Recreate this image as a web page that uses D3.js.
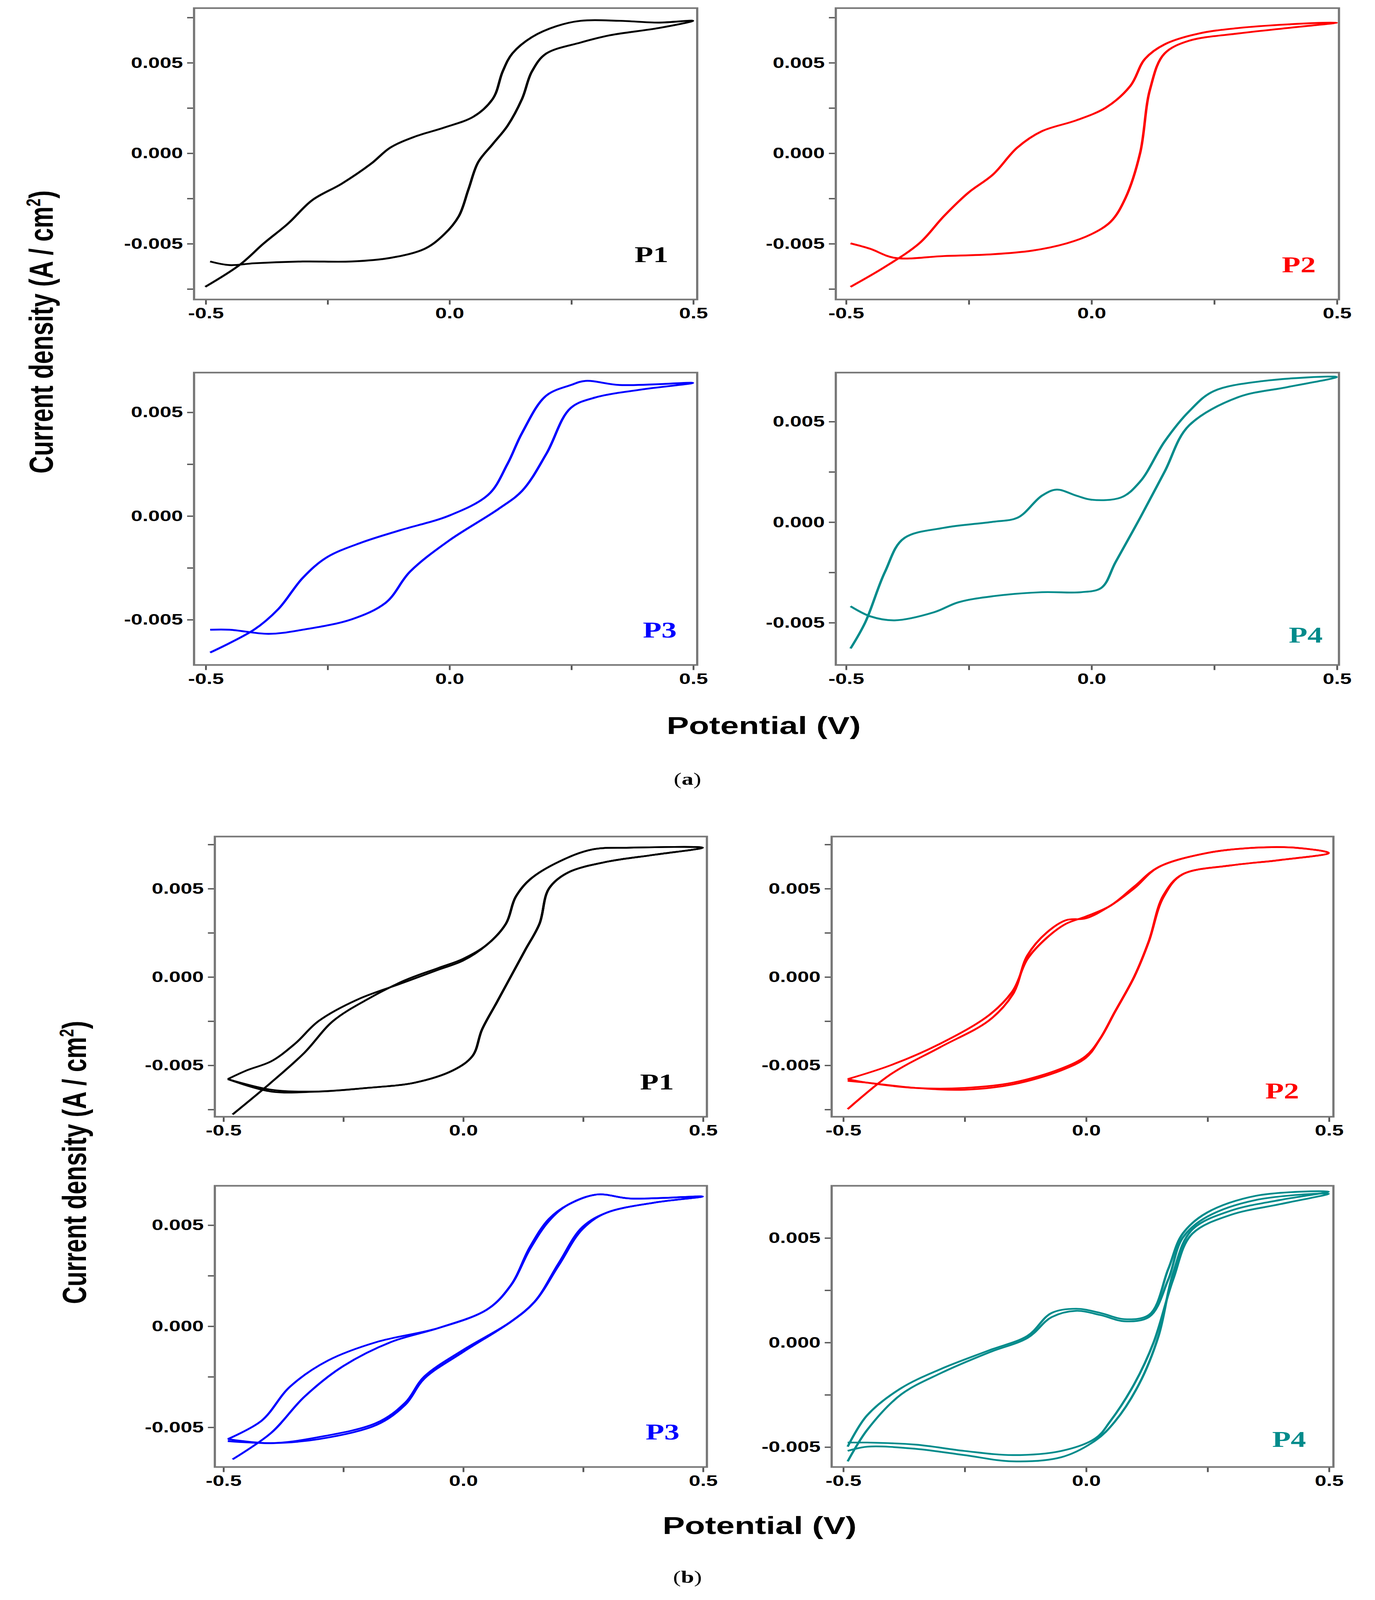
<!DOCTYPE html>
<html><head><meta charset="utf-8">
<script src="https://cdn.jsdelivr.net/npm/d3@7"></script>
<style>html,body{margin:0;padding:0;background:#fff;overflow:hidden}svg{display:block}</style></head>
<body><svg id="c" viewBox="0 0 992 1576" preserveAspectRatio="none"></svg>
<script>
// ---- data: [potential V, current density A/cm2]
const aP1 = [[-0.5,-0.0074],[-0.43,-0.0062],[-0.38,-0.005],[-0.33,-0.0039],[-0.28,-0.0026],[-0.22,-0.0017],[-0.16,-0.0006],[-0.12,0.0003],[-0.07,0.0009],[-0.01,0.0014],[0.05,0.002],[0.09,0.003],[0.11,0.0045],[0.13,0.0055],[0.17,0.0064],[0.22,0.0070],[0.27,0.0073],[0.35,0.0073],[0.43,0.0072],[0.5,0.0073],
 [0.43,0.0069],[0.33,0.0065],[0.27,0.0061],[0.2,0.0055],[0.17,0.0045],[0.15,0.003],[0.12,0.0015],[0.09,0.0005],[0.06,-0.0005],[0.04,-0.002],[0.02,-0.0035],[-0.01,-0.0045],[-0.05,-0.0053],[-0.12,-0.0058],[-0.2,-0.0060],[-0.3,-0.0060],[-0.4,-0.0061],[-0.45,-0.0062],[-0.49,-0.006]];
const aP2 = [[-0.49,-0.0074],[-0.42,-0.0063],[-0.35,-0.005],[-0.3,-0.0035],[-0.25,-0.0022],[-0.2,-0.0012],[-0.15,0.0003],[-0.1,0.0012],[-0.03,0.0018],[0.03,0.0025],[0.08,0.0037],[0.11,0.0052],[0.15,0.006],[0.22,0.0066],[0.3,0.0069],[0.4,0.0071],[0.5,0.0072],
 [0.4,0.0069],[0.3,0.0066],[0.2,0.0062],[0.15,0.0055],[0.12,0.0035],[0.1,0.0],[0.07,-0.0025],[0.04,-0.0038],[0.0,-0.0045],[-0.05,-0.005],[-0.12,-0.0054],[-0.2,-0.0056],[-0.3,-0.0057],[-0.4,-0.0058],[-0.45,-0.0053],[-0.49,-0.005]];
const aP3 = [[-0.49,-0.0066],[-0.4,-0.0055],[-0.35,-0.0045],[-0.3,-0.003],[-0.25,-0.002],[-0.18,-0.0013],[-0.1,-0.0007],[0,0.0],[0.08,0.001],[0.12,0.0025],[0.15,0.004],[0.2,0.0058],[0.25,0.0063],[0.28,0.0065],[0.35,0.0063],[0.5,0.0064],
 [0.4,0.0061],[0.3,0.0057],[0.25,0.0052],[0.2,0.003],[0.15,0.0012],[0.1,0.0003],[0.0,-0.0012],[-0.08,-0.0027],[-0.13,-0.0042],[-0.2,-0.005],[-0.3,-0.0055],[-0.37,-0.0057],[-0.45,-0.0055],[-0.49,-0.0055]];
const aP4 = [[-0.49,-0.0063],[-0.46,-0.005],[-0.42,-0.0025],[-0.38,-0.0008],[-0.3,-0.0003],[-0.2,0.0],[-0.15,0.0002],[-0.1,0.0013],[-0.07,0.0016],[-0.03,0.0013],[0.0,0.0011],[0.06,0.0012],[0.1,0.002],[0.15,0.004],[0.2,0.0055],[0.25,0.0065],[0.35,0.007],[0.5,0.0072],
 [0.4,0.0067],[0.3,0.0062],[0.2,0.0048],[0.15,0.0025],[0.1,0.0002],[0.05,-0.002],[0.02,-0.0033],[-0.02,-0.0035],[-0.1,-0.0035],[-0.2,-0.0037],[-0.27,-0.004],[-0.32,-0.0045],[-0.4,-0.0049],[-0.45,-0.0047],[-0.49,-0.0042]];
const bP1c1 = [[-0.48,-0.0078],[-0.4,-0.006],[-0.33,-0.0043],[-0.27,-0.0025],[-0.2,-0.0013],[-0.12,-0.0002],[-0.05,0.0005],[0.0,0.0010],[0.05,0.0018],[0.09,0.003],[0.11,0.0045],[0.14,0.0055],[0.2,0.0065],[0.27,0.0072],[0.35,0.0073],[0.5,0.0073],
 [0.4,0.0069],[0.3,0.0065],[0.22,0.0059],[0.18,0.005],[0.16,0.003],[0.13,0.0015],[0.1,0.0],[0.07,-0.0015],[0.04,-0.003],[0.02,-0.0045],[-0.02,-0.0053],[-0.1,-0.006],[-0.2,-0.0063],[-0.3,-0.0065],[-0.4,-0.0064],[-0.49,-0.0058]];
const bP1c2 = [[-0.49,-0.0058],[-0.45,-0.0053],[-0.4,-0.0048],[-0.35,-0.0038],[-0.3,-0.0025],[-0.22,-0.0013],[-0.13,-0.0004],[-0.05,0.0004],[0.0,0.0009],[0.05,0.0018],[0.09,0.003],[0.11,0.0045],[0.14,0.0055],[0.2,0.0065],[0.27,0.0072],[0.35,0.0073],[0.5,0.0073],
 [0.4,0.0069],[0.3,0.0065],[0.22,0.0059],[0.18,0.005],[0.16,0.003],[0.13,0.0015],[0.1,0.0],[0.07,-0.0015],[0.04,-0.003],[0.02,-0.0045],[-0.02,-0.0053],[-0.1,-0.006],[-0.2,-0.0063],[-0.3,-0.0065],[-0.4,-0.0065],[-0.49,-0.0058]];
const bP2c1 = [[-0.49,-0.0075],[-0.4,-0.0055],[-0.3,-0.004],[-0.2,-0.0025],[-0.15,-0.001],[-0.12,0.0012],[-0.08,0.0025],[-0.04,0.0032],[0.0,0.0033],[0.05,0.004],[0.1,0.005],[0.15,0.0062],[0.25,0.007],[0.35,0.0073],[0.43,0.0073],[0.5,0.0070],
 [0.4,0.0066],[0.3,0.0063],[0.2,0.0058],[0.16,0.0045],[0.13,0.002],[0.1,0.0],[0.06,-0.002],[0.03,-0.0035],[0.0,-0.0045],[-0.05,-0.0052],[-0.15,-0.006],[-0.25,-0.0063],[-0.35,-0.0063],[-0.45,-0.006],[-0.49,-0.0058]];
const bP2c2 = [[-0.49,-0.0058],[-0.4,-0.005],[-0.3,-0.0038],[-0.2,-0.0022],[-0.15,-0.0008],[-0.12,0.001],[-0.08,0.0022],[-0.04,0.003],[0.0,0.0034],[0.05,0.004],[0.1,0.0051],[0.15,0.0062],[0.25,0.007],[0.35,0.0073],[0.43,0.0073],[0.5,0.0070],
 [0.4,0.0066],[0.3,0.0063],[0.2,0.0058],[0.16,0.0046],[0.13,0.002],[0.1,0.0],[0.06,-0.002],[0.03,-0.0035],[0.0,-0.0046],[-0.05,-0.0053],[-0.15,-0.0061],[-0.25,-0.0064],[-0.35,-0.0063],[-0.45,-0.0060],[-0.49,-0.0059]];
const bP3c1 = [[-0.48,-0.0066],[-0.4,-0.0053],[-0.33,-0.0035],[-0.25,-0.002],[-0.15,-0.0008],[-0.05,-0.0001],[0.05,0.0008],[0.1,0.002],[0.14,0.0038],[0.18,0.0052],[0.22,0.006],[0.28,0.0065],[0.35,0.0063],[0.5,0.0064],
 [0.4,0.0061],[0.3,0.0056],[0.25,0.0048],[0.2,0.003],[0.15,0.0012],[0.1,0.0002],[0.0,-0.0012],[-0.08,-0.0025],[-0.12,-0.0038],[-0.18,-0.0048],[-0.3,-0.0055],[-0.4,-0.0058],[-0.49,-0.0056]];
const bP3c2 = [[-0.49,-0.0056],[-0.42,-0.0047],[-0.36,-0.003],[-0.28,-0.0017],[-0.18,-0.0008],[-0.05,-0.0001],[0.05,0.0008],[0.1,0.002],[0.14,0.0039],[0.18,0.0053],[0.22,0.006],[0.28,0.0065],[0.35,0.0063],[0.5,0.0064],
 [0.4,0.0061],[0.3,0.0056],[0.25,0.0049],[0.2,0.0031],[0.15,0.0012],[0.1,0.0002],[0.0,-0.0013],[-0.08,-0.0026],[-0.12,-0.0039],[-0.18,-0.0049],[-0.3,-0.0056],[-0.4,-0.0058],[-0.49,-0.0057]];
const bP4c1 = [[-0.49,-0.0057],[-0.45,-0.0042],[-0.38,-0.0025],[-0.3,-0.0015],[-0.2,-0.0005],[-0.12,0.0002],[-0.07,0.0012],[-0.02,0.0015],[0.03,0.0013],[0.08,0.001],[0.13,0.0012],[0.17,0.003],[0.2,0.005],[0.25,0.006],[0.35,0.0068],[0.5,0.0071],
 [0.4,0.0066],[0.3,0.0061],[0.22,0.0052],[0.18,0.003],[0.14,0.0],[0.1,-0.002],[0.05,-0.0038],[0.02,-0.0046],[-0.05,-0.0052],[-0.15,-0.0054],[-0.25,-0.0052],[-0.35,-0.0049],[-0.45,-0.0048],[-0.49,-0.0048]];
const bP4c2 = [[-0.49,-0.0050],[-0.45,-0.0035],[-0.38,-0.0022],[-0.3,-0.0013],[-0.2,-0.0004],[-0.12,0.0003],[-0.07,0.0014],[-0.02,0.0016],[0.03,0.0014],[0.08,0.0011],[0.13,0.0013],[0.17,0.0035],[0.2,0.0052],[0.25,0.0062],[0.35,0.007],[0.5,0.0072],
 [0.4,0.0068],[0.3,0.0063],[0.22,0.0054],[0.18,0.0033],[0.15,0.0003],[0.11,-0.002],[0.06,-0.0038],[0.02,-0.0047],[-0.05,-0.0055],[-0.15,-0.0057],[-0.25,-0.0054],[-0.35,-0.0051],[-0.45,-0.005],[-0.49,-0.0052]];
const xTicks = [-0.5, 0.0, 0.5];
const xMinor = [-0.25, 0.25];
const yTicks = [-0.005, 0.000, 0.005];
const yMinor = [-0.0075, -0.0025, 0.0025, 0.0075];
const names = ["P1","P2","P3","P4"];
const colors = ["#000000","#ff0000","#0000ff","#008b8b"];

// ---- layout (viewBox units)
const panels = [
 {f:[140,8,503,295], xd:[-0.523,0.509], yd:[-0.0081,0.0080], s:[aP1], i:0, lab:[470,258]},
 {f:[603,8,966,295], xd:[-0.52,0.505], yd:[-0.0081,0.0080], s:[aP2], i:1, lab:[937,268]},
 {f:[140,367,503,655], xd:[-0.523,0.509], yd:[-0.0072,0.0069], s:[aP3], i:2, lab:[476,628]},
 {f:[603,367,966,655], xd:[-0.52,0.505], yd:[-0.00712,0.00742], s:[aP4], i:3, lab:[942,633]},
 {f:[155,824,510,1100], xd:[-0.517,0.509], yd:[-0.00793,0.00793], s:[bP1c1,bP1c2], i:0, lab:[474,1073]},
 {f:[600,824,962,1100], xd:[-0.523,0.51], yd:[-0.00793,0.00793], s:[bP2c1,bP2c2], i:1, lab:[925,1082]},
 {f:[155,1168,510,1445], xd:[-0.517,0.509], yd:[-0.00698,0.00693], s:[bP3c1,bP3c2], i:2, lab:[478,1418]},
 {f:[600,1168,962,1445], xd:[-0.523,0.51], yd:[-0.00597,0.00748], s:[bP4c1,bP4c2], i:3, lab:[930,1425]}
];
const hy = f => (d => f(d).replace("\u2212","-"));
const svg = d3.select("#c").attr("width", window.innerWidth).attr("height", window.innerHeight);
panels.forEach(p => {
  const [x0,y0,x1,y1] = p.f;
  const x = d3.scaleLinear().domain(p.xd).range([x0,x1]);
  const y = d3.scaleLinear().domain(p.yd).range([y1,y0]);
  const g = svg.append("g");
  g.append("g").attr("transform",`translate(0,${y1})`)
    .call(d3.axisBottom(x).tickValues(xTicks).tickSize(5).tickPadding(3).tickFormat(hy(d3.format(".1f"))));
  g.append("g").attr("transform",`translate(0,${y1})`).call(d3.axisBottom(x).tickValues(xMinor).tickSize(5).tickFormat(""));
  g.append("g").attr("transform",`translate(${x0},0)`)
    .call(d3.axisLeft(y).tickValues(yTicks).tickSize(5).tickPadding(3).tickFormat(hy(d3.format(".3f"))));
  g.append("g").attr("transform",`translate(${x0},0)`)
    .call(d3.axisLeft(y).tickValues(yMinor.filter(v=>v>p.yd[0]&&v<p.yd[1])).tickSize(5).tickFormat(""));
  g.selectAll(".domain").remove();
  g.selectAll(".tick line").attr("stroke","#555").attr("stroke-width",1.3);
  g.selectAll(".tick text").attr("font-family","Liberation Sans, Arial, sans-serif").attr("font-weight","bold").attr("font-size",15).attr("fill","#000");
  g.append("rect").attr("x",x0).attr("y",y0).attr("width",x1-x0).attr("height",y1-y0)
    .attr("fill","none").attr("stroke","#777").attr("stroke-width",1.6);
  const line = d3.line().x(d=>x(d[0])).y(d=>y(d[1])).curve(d3.curveCatmullRom.alpha(0.5));
  p.s.forEach(s => g.append("path").attr("d",line(s)).attr("fill","none")
    .attr("stroke",colors[p.i]).attr("stroke-width",p.s.length>1?1.7:1.8).attr("stroke-linejoin","round"));
  g.append("text").attr("x",p.lab[0]).attr("y",p.lab[1]).attr("text-anchor","middle")
    .attr("font-family","Liberation Serif, Times New Roman, serif").attr("font-weight","bold")
    .attr("font-size",22).attr("fill",colors[p.i]).text(names[p.i]);
});
const tf = "Liberation Sans, Arial, sans-serif";
function ylab(cx,cy){
  const t = svg.append("text").attr("transform",`translate(${cx},${cy}) rotate(-90)`).attr("text-anchor","middle")
    .attr("font-family",tf).attr("font-weight","bold").attr("font-size",24);
  t.append("tspan").text("Current density (A / cm");
  t.append("tspan").attr("dy",-9).attr("font-size",14).text("2");
  t.append("tspan").attr("dy",9).text(")");
}
ylab(38,327); ylab(62,1145);
svg.append("text").attr("x",551).attr("y",723).attr("text-anchor","middle").attr("font-family",tf).attr("font-weight","bold").attr("font-size",24).text("Potential (V)");
svg.append("text").attr("x",548).attr("y",1511).attr("text-anchor","middle").attr("font-family",tf).attr("font-weight","bold").attr("font-size",24).text("Potential (V)");
function cap(cy,l){
  const t = svg.append("text").attr("x",496).attr("y",cy).attr("text-anchor","middle").attr("font-family","Liberation Serif, serif").attr("font-size",17);
  t.append("tspan").text("("); t.append("tspan").attr("font-weight","bold").text(l); t.append("tspan").text(")");
}
cap(773,"a"); cap(1559,"b");
</script></body></html>
